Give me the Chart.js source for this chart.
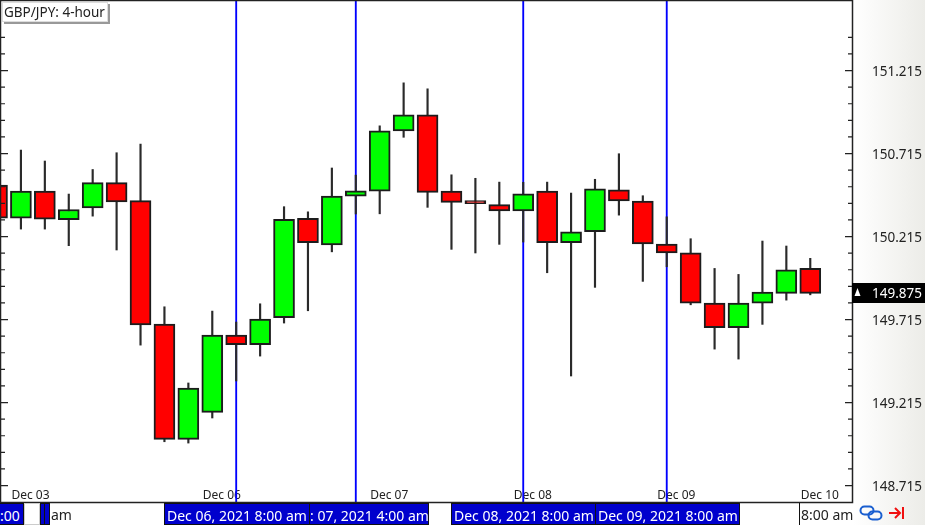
<!DOCTYPE html>
<html>
<head>
<meta charset="utf-8">
<title>GBP/JPY: 4-hour</title>
<script src="https://cdn.jsdelivr.net/npm/chart.js@4"></script>
<style>
    html, body { margin: 0; padding: 0; width: 925px; height: 525px; overflow: hidden; background: #fff; font-family: "Noto Sans", sans-serif; }
    #sidePanel { position: absolute; left: 853px; top: 0; width: 72px; height: 525px; background: linear-gradient(to right, #ffffff, #ecece8); }
    #priceChart { position: absolute; left: 0; top: 0; }
    #chartTitle { position: absolute; left: 2px; top: 2px; height: 18px; line-height: 18px; padding: 0 2px 0 1px; font-size: 13.5px; color: #222; background: #fff; border: 1px solid #ddd; box-shadow: 2px 2px 0 #999; white-space: nowrap; }
    .stamp { position: absolute; top: 503px; height: 22px; line-height: 23px; font-size: 14px; white-space: nowrap; overflow: hidden; box-sizing: border-box; }
    .blue { background: #0000cd; color: #fff; border: 1px solid #111; padding-left: 2px; }
    .plain { color: #222; }
    #linkIcon { position: absolute; left: 859px; top: 504px; }
    #jumpIcon { position: absolute; left: 888px; top: 505px; }
</style>
</head>
<body>
<div id="sidePanel"></div>
<canvas id="priceChart" width="925" height="525"></canvas>
<div id="chartTitle">GBP/JPY: 4-hour</div>

<div class="stamp blue" style="left:-1px;width:25px;padding-left:0">:00</div>
<div class="stamp" style="left:24px;width:16px;border:1px solid #ccc;background:#fff"></div>
<div class="stamp blue" style="left:40px;width:5px;padding:0"></div>
<div class="stamp blue" style="left:44px;width:6px;padding:0"></div>
<div class="stamp plain" style="left:51px;width:22px">am</div>
<div class="stamp blue" style="left:164px;width:146px">Dec 06, 2021 8:00 am</div>
<div class="stamp blue" style="left:309px;width:120px;padding-left:0">: 07, 2021 4:00 am</div>
<div class="stamp blue" style="left:451px;width:145px">Dec 08, 2021 8:00 am</div>
<div class="stamp blue" style="left:595px;width:145px">Dec 09, 2021 8:00 am</div>
<div class="stamp plain" style="left:799px;width:54px;border-left:1px solid #111;padding-left:1px">8:00 am</div>

<svg id="linkIcon" width="24" height="18" viewBox="0 0 24 18" fill="none" stroke="#1a5fd0" stroke-width="2">
    <rect x="1.5" y="2.5" width="13" height="8" rx="4"/>
    <rect x="9.5" y="7.5" width="13" height="8" rx="4"/>
</svg>
<svg id="jumpIcon" width="18" height="16" viewBox="0 0 18 16" fill="none" stroke="#f01010" stroke-width="2">
    <path d="M1 8H12M7 3L12 8L7 13M15 2V14"/>
</svg>

<script>
    // Candles, oldest first
    var openPrices  = [150.525, 150.326, 150.489, 150.317, 150.387, 150.540, 150.431, 149.688, 148.993, 149.156, 149.622, 149.563, 149.726, 150.325, 150.164, 150.459, 150.489, 150.852, 150.949, 150.489, 150.431, 150.407, 150.369, 150.489, 150.178, 150.244, 150.497, 150.429, 150.170, 150.117, 149.814, 149.666, 149.814, 149.873, 150.023];
    var highPrices  = [150.525, 150.736, 150.670, 150.471, 150.619, 150.720, 150.772, 149.792, 149.333, 149.766, 149.700, 149.810, 150.395, 150.364, 150.628, 150.585, 150.882, 151.141, 151.105, 150.587, 150.566, 150.543, 150.542, 150.543, 150.477, 150.560, 150.714, 150.461, 150.334, 150.202, 150.023, 149.987, 150.188, 150.158, 150.084];
    var lowPrices   = [150.326, 150.260, 150.260, 150.160, 150.338, 150.134, 149.561, 148.979, 148.971, 149.122, 149.345, 149.495, 149.694, 149.768, 150.123, 150.351, 150.352, 150.813, 150.391, 150.138, 150.116, 150.168, 150.182, 149.997, 149.375, 149.909, 150.344, 149.945, 150.033, 149.804, 149.537, 149.477, 149.686, 149.832, 149.864];
    var closePrices = [150.326, 150.489, 150.320, 150.378, 150.540, 150.423, 149.682, 148.993, 149.302, 149.622, 149.563, 149.718, 150.319, 150.178, 150.459, 150.491, 150.852, 150.949, 150.481, 150.421, 150.413, 150.369, 150.473, 150.178, 150.244, 150.503, 150.429, 150.170, 150.117, 149.813, 149.666, 149.814, 149.881, 150.015, 149.873];

    var dayLabels  = ['Dec 03', 'Dec 06', 'Dec 07', 'Dec 08', 'Dec 09', 'Dec 10'];
    var dayCandles = [1, 9, 16, 22, 28, 34];
    var sessionCandles = [10, 15, 22, 28];

    var priceLabels = [151.215, 150.715, 150.215, 149.715, 149.215, 148.715];
    var minorPrices = [151.415, 151.315, 151.115, 151.015, 150.915, 150.815, 150.615, 150.515, 150.415, 150.315, 150.115, 150.015, 149.915, 149.815, 149.615, 149.515, 149.415, 149.315, 149.115, 149.015, 148.915, 148.815];
    var currentPrice = 149.875;

    var bodies = [], wicks = [], bodyColors = [], sessions = [];
    for (var i = 0; i < openPrices.length; i++) {
        bodies.push({x: i, y: [openPrices[i], closePrices[i]]});
        wicks.push({x: i, y: [lowPrices[i], highPrices[i]]});
        bodyColors.push(closePrices[i] >= openPrices[i] ? '#00ff00' : '#ff0000');
    }
    sessionCandles.forEach(function(c) {
        sessions.push({x: c, y: [148.616, 151.634]});
    });

    // Axis frame, tick marks on both sides, last price badge
    var chartFrame = {
        id: 'chartFrame',
        afterDraw: function(chart) {
            var ctx = chart.ctx, area = chart.chartArea, yScale = chart.scales.y;
            ctx.save();
            ctx.strokeStyle = '#222';
            ctx.lineWidth = 1.5;
            ctx.strokeRect(area.left - 0.5, area.top - 0.5, area.right - area.left + 1, area.bottom - area.top + 1);

            ctx.lineWidth = 1.2;
            function mark(value, len) {
                var y = yScale.getPixelForValue(value);
                ctx.beginPath();
                ctx.moveTo(area.left, y); ctx.lineTo(area.left + len, y);
                ctx.moveTo(area.right, y); ctx.lineTo(area.right - len, y);
                ctx.stroke();
            }
            priceLabels.forEach(function(v) { mark(v, 7); });
            minorPrices.forEach(function(v) { mark(v, 4); });

            var py = yScale.getPixelForValue(currentPrice);
            ctx.fillStyle = '#000';
            ctx.fillRect(area.right, py - 10, chart.width - area.right, 20);
            ctx.fillStyle = '#fff';
            ctx.beginPath();
            ctx.moveTo(857.5, py - 5); ctx.lineTo(860.5, py + 3); ctx.lineTo(854.5, py + 3);
            ctx.fill();
            ctx.font = '13.5px "Noto Sans"';
            ctx.textBaseline = 'middle';
            ctx.fillText(currentPrice.toFixed(3), 872, py + 1.5);
            ctx.restore();
        }
    };

    new Chart(document.getElementById('priceChart'), {
        type: 'bar',
        data: {
            datasets: [
                {
                    data: bodies,
                    grouped: false,
                    barThickness: 21,
                    backgroundColor: bodyColors,
                    borderColor: '#1c1c1c',
                    borderWidth: 2,
                    borderSkipped: false,
                    order: 1
                },
                {
                    data: wicks,
                    grouped: false,
                    barThickness: 1.5,
                    backgroundColor: '#2a2a2a',
                    order: 2
                },
                {
                    data: sessions,
                    grouped: false,
                    barThickness: 1.2,
                    backgroundColor: '#0000ff',
                    order: 3
                }
            ]
        },
        options: {
            responsive: false,
            animation: false,
            events: [],
            layout: { padding: { left: 1, top: 1 }, autoPadding: false },
            plugins: {
                legend: { display: false },
                tooltip: { enabled: false }
            },
            scales: {
                x: {
                    type: 'linear',
                    position: 'bottom',
                    offset: false,
                    min: 0.167,
                    max: 35.745,
                    grid: { display: false, drawTicks: false },
                    border: { display: false },
                    afterFit: function(scale) {
                        scale.height = 23;
                        scale.paddingLeft = 0;
                        scale.paddingRight = 0;
                    },
                    afterBuildTicks: function(scale) {
                        scale.ticks = dayCandles.map(function(c) { return {value: c + 0.4}; });
                    },
                    afterTickToLabelConversion: function(scale) {
                        scale.ticks.forEach(function(t, n) { t.label = dayLabels[n]; });
                    },
                    ticks: {
                        mirror: true,
                        autoSkip: false,
                        maxRotation: 0,
                        padding: -1,
                        color: '#222',
                        font: { family: '"Noto Sans"', size: 12 }
                    }
                },
                y: {
                    type: 'linear',
                    position: 'right',
                    min: 148.616,
                    max: 151.634,
                    grid: { display: false, drawTicks: false },
                    border: { display: false },
                    afterFit: function(scale) {
                        scale.width = 73;
                        scale.paddingTop = 0;
                        scale.paddingBottom = 0;
                    },
                    afterBuildTicks: function(scale) {
                        scale.ticks = priceLabels.map(function(v) { return {value: v}; });
                    },
                    ticks: {
                        autoSkip: false,
                        padding: 20,
                        labelOffset: 1.5,
                        color: '#222',
                        font: { family: '"Noto Sans"', size: 13.5 },
                        callback: function(value) { return value.toFixed(3); }
                    }
                }
            }
        },
        plugins: [chartFrame]
    });
</script>
</body>
</html>
